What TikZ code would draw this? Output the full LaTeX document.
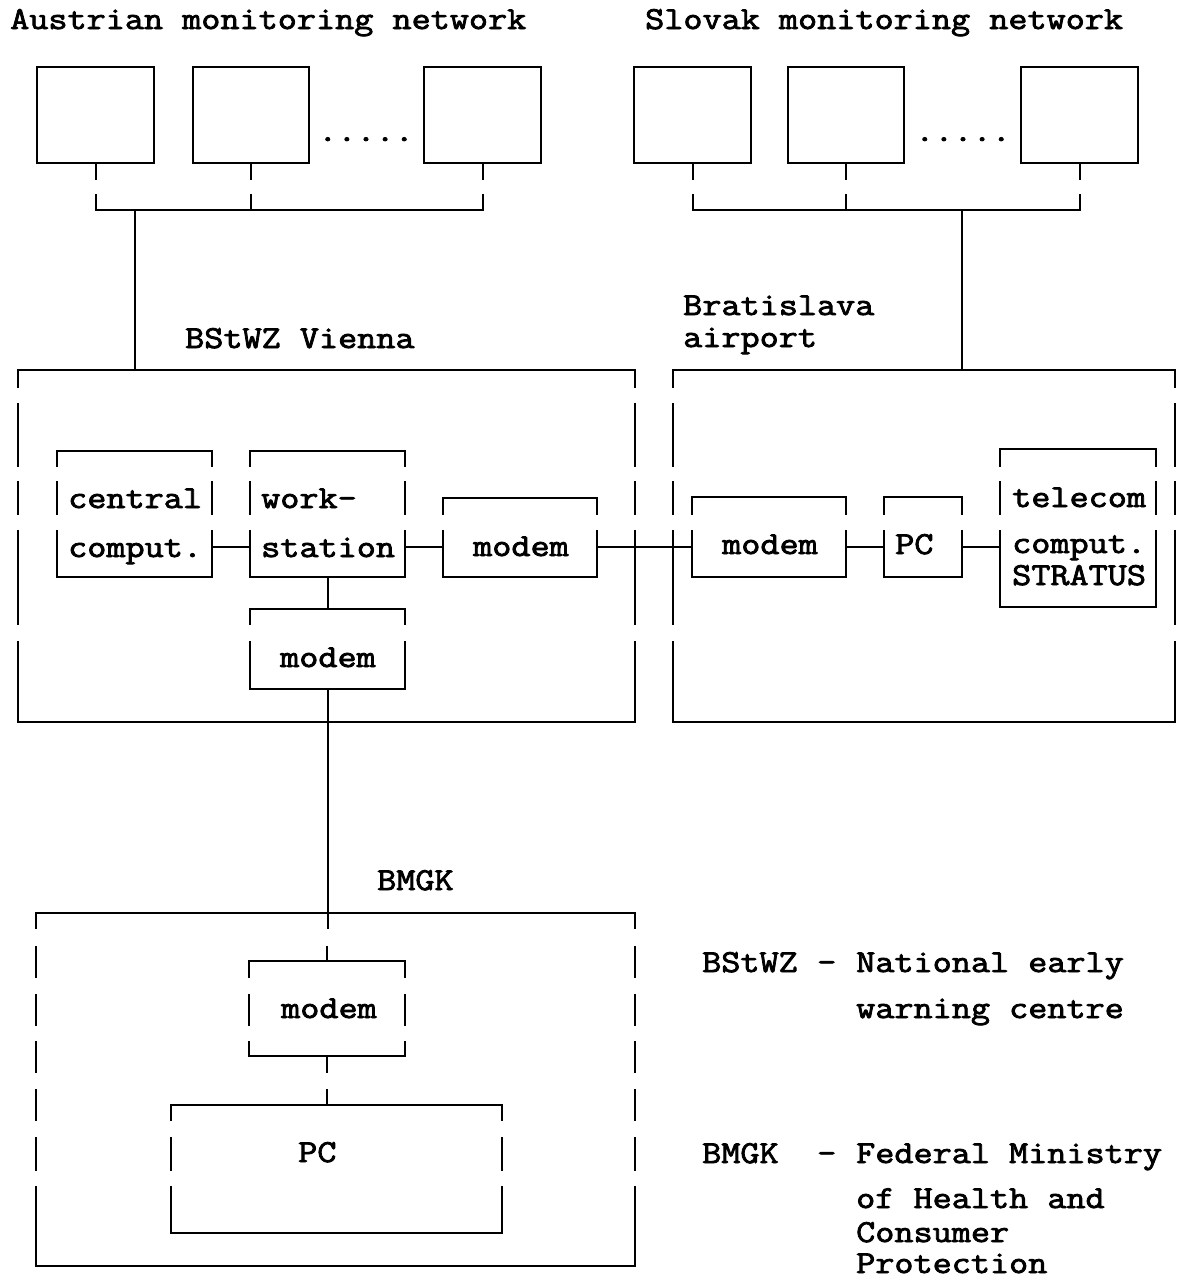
\documentclass[tikz,border=0pt]{standalone}
\usepackage{fontspec}
% typewriter face: slab-serif mono, widened to a 0.6em pitch and thickened
\newfontfamily\typewriter{Latin Modern Mono}[FakeStretch=1.16, FakeBold=2.5]
\usetikzlibrary{fit}

% A box whose vertical sides are broken into segments (typewriter style):
% #1 name, #2/#3 top-left corner, #4/#5 bottom-right corner, #6 list of ya/yb side segments
\newcommand\brokenbox[6]{%
  \node[area, fit={(#2,#3) (#4,#5)}] (#1) {};
  \draw[line] (#1.north west) -- (#1.north east) (#1.south west) -- (#1.south east);
  \foreach \ya/\yb in {#6} {
    \draw[line] (#1.west |- 0,\ya) -- (#1.west |- 0,\yb)
                (#1.east |- 0,\ya) -- (#1.east |- 0,\yb);
  }%
}

\tikzset{
  line/.style={line width=2pt, line cap=rect},
  area/.style={inner sep=0pt, outer sep=0pt},
  station/.style={draw, line width=2pt, inner sep=0pt, outer sep=0pt},
  txt/.style={font=\typewriter\fontsize{32}{34}\selectfont, inner sep=0pt, anchor=base west},
}

\begin{document}
\begin{tikzpicture}[x=1pt, y=-1pt]
\fill[white] (0,0) rectangle (1182,1282);
\useasboundingbox (0,0) rectangle (1182,1282);

% headings
\node[txt] (t-at) at (10,29) {Austrian monitoring network};
\node[txt] (t-sk) at (645,29) {Slovak monitoring network};

% monitoring stations
\node[station, fit={(37,67) (154,163)}] (a1) {};
\node[station, fit={(193,67) (309,163)}] (a2) {};
\node[station, fit={(424,67) (541,163)}] (a3) {};
\node[txt] (adots) at (318,141) {.....};
\node[station, fit={(634,67) (751,163)}] (s1) {};
\node[station, fit={(788,67) (904,163)}] (s2) {};
\node[station, fit={(1021,67) (1138,163)}] (s3) {};
\node[txt] (sdots) at (915,141) {.....};

% stubs from the stations to the collecting lines
\foreach \n in {a1,a2,a3,s1,s2,s3} {
  \draw[line] (\n.south) -- ++(0,16);
  \draw[line] (\n.south) ++(0,32) -- ++(0,15);
}
\coordinate (bus) at (0,210);
\draw[line] (a1.south |- bus) -- (a3.south |- bus);
\draw[line] (s1.south |- bus) -- (s3.south |- bus);
\coordinate (atap) at (135,210);
\coordinate (stap) at (962,210);

% site labels
\node[txt] (t-vie) at (185,348) {BStWZ Vienna};
\node[txt] (t-bra1) at (683,315) {Bratislava};
\node[txt] (t-bra2) at (683,347) {airport};
\node[txt] (t-bmgk) at (377,890) {BMGK};

% sites
\brokenbox{vienna}{18}{370}{635}{722}{370/387,404/466,482/514,531/624,642/722}
\brokenbox{brat}{673}{370}{1175}{722}{370/387,404/466,482/514,531/624,642/722}
\brokenbox{bmgk}{36}{913}{635}{1266}{913/928,947/977,995/1025,1042/1072,1090/1120,1138/1170,1187/1266}

\draw[line] (atap) -- (atap |- vienna.north);
\draw[line] (stap) -- (stap |- brat.north);

% equipment in Vienna
\brokenbox{cc}{57}{451}{212}{577}{451/466,482/514,531/577}
\brokenbox{ws}{250}{451}{405}{577}{451/466,482/514,531/577}
\brokenbox{vm}{443}{498}{597}{577}{498/514,531/577}
\brokenbox{lm}{250}{609}{405}{689}{609/624,642/689}
\node[txt] (cc1) at (68,508) {central};
\node[txt] (cc2) at (68,557) {comput.};
\node[txt] (ws1) at (261,508) {work-};
\node[txt] (ws2) at (261,557) {station};
\node[txt] (vm-t) at (473,556) {modem};
\node[txt] (lm-t) at (280,667) {modem};

% equipment at Bratislava airport
\brokenbox{bm}{692}{497}{846}{577}{497/514,531/577}
\brokenbox{bpc}{884}{497}{962}{577}{497/514,531/577}
\brokenbox{tel}{1000}{449}{1156}{607}{449/466,482/514,531/607}
\node[txt] (bm-t) at (722,554) {modem};
\node[txt] (bpc-t) at (895,554) {PC};
\node[txt] (tel1) at (1012,507) {telecom};
\node[txt] (tel2) at (1012,553) {comput.};
\node[txt] (tel3) at (1012,585) {STRATUS};

% equipment at BMGK
\brokenbox{km}{249}{961}{405}{1056}{961/977,995/1025,1042/1056}
\brokenbox{kpc}{171}{1105}{502}{1233}{1105/1120,1138/1170,1187/1233}
\node[txt] (km-t) at (281,1018) {modem};
\node[txt] (kpc-t) at (298,1162) {PC};

% data links
\coordinate (row) at (0,547);
\draw[line] (cc.east |- row) -- (ws.west |- row);
\draw[line] (ws.east |- row) -- (vm.west |- row);
\draw[line] (vm.east |- row) -- (bm.west |- row);
\draw[line] (bm.east |- row) -- (bpc.west |- row);
\draw[line] (bpc.east |- row) -- (tel.west |- row);
\draw[line] (ws.south) -- (lm.north);
\draw[line] (lm.south) -- (lm.south |- bmgk.north) -- ++(0,15);
\draw[line] (km.north) ++(0,-14) -- (km.north);
\draw[line] (km.south) -- ++(0,16);
\draw[line] (kpc.north -| km.south) ++(0,-15) -- (kpc.north -| km.south);

% abbreviations
\node[txt] (k1) at (702,972) {BStWZ};
\node[txt] (k1d) at (817,972) {-};
\node[txt] (k1a) at (856,972) {National early};
\node[txt] (k1b) at (856,1018) {warning centre};
\node[txt] (k2) at (702,1163) {BMGK};
\node[txt] (k2d) at (817,1163) {-};
\node[txt] (k2a) at (856,1163) {Federal Ministry};
\node[txt] (k2b) at (856,1208) {of Health and};
\node[txt] (k2c) at (856,1242) {Consumer};
\node[txt] (k2d2) at (856,1273) {Protection};
\end{tikzpicture}
\end{document}
